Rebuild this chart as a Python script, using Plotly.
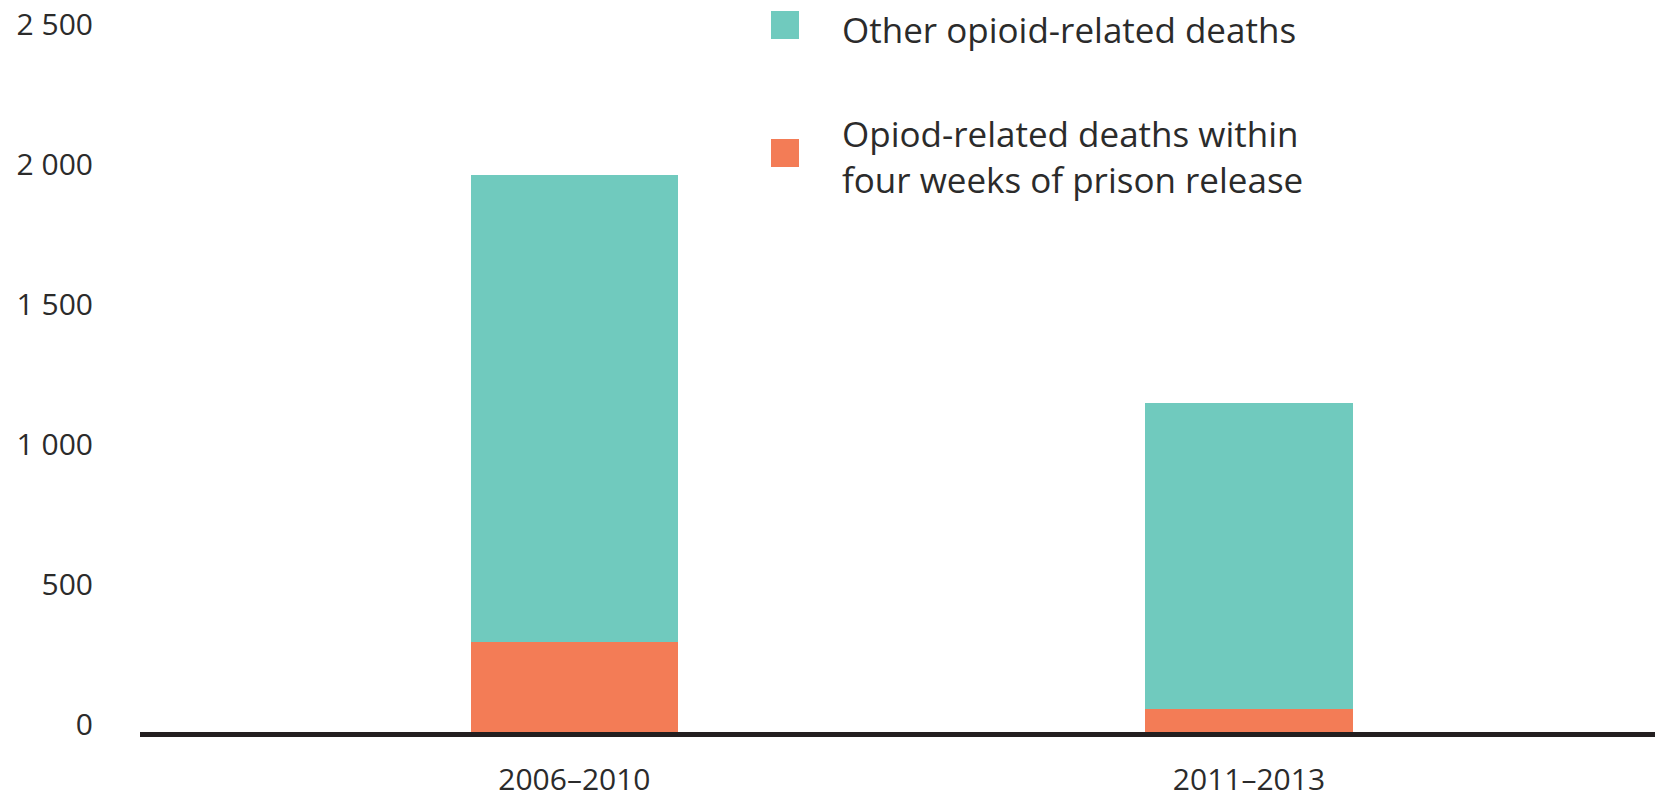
import plotly.graph_objects as go

# Opioid-related deaths by period, split by proximity to prison release
periods = ["2006–2010", "2011–2013"]
post_release = [322, 82]
other_deaths = [1667, 1094]

series_names = ["Other opioid-related deaths",
                "Opiod-related deaths within<br>four weeks of prison release"]
series_colors = ["#70CABE", "#F37C56"]

y_tickvals = [0, 500, 1000, 1500, 2000, 2500]
y_ticktext = ["0", "500", "1 000", "1 500", "2 000", "2 500"]

W, H = 1655, 799
L, R, T, B = 140, 0, 32, 67
FONT = "'Open Sans', Lato, sans-serif"
TEXT = "#2b2b2b"

fig = go.Figure()
fig.add_trace(go.Bar(x=periods, y=post_release, name=series_names[1],
                     marker=dict(color=series_colors[1], line=dict(width=0)),
                     showlegend=False))
fig.add_trace(go.Bar(x=periods, y=other_deaths, name=series_names[0],
                     marker=dict(color=series_colors[0], line=dict(width=0)),
                     showlegend=False))

plot_w = W - L - R
plot_h = H - T - B


def px_x(px):
    return (px - L) / plot_w


def px_y(py):
    return (H - B - py) / plot_h


# Hand-placed legend: swatch squares with text beside them
shapes = []
annotations = []
legend_rows = [(series_names[0], series_colors[0], 25.0, 29.0),
               (series_names[1], series_colors[1], 153.0, 156.0)]
for name, color, cy, ty in legend_rows:
    shapes.append(dict(type="rect", xref="paper", yref="paper",
                       x0=px_x(771), x1=px_x(799), y0=px_y(cy - 14), y1=px_y(cy + 14),
                       fillcolor=color, line=dict(width=0)))
    annotations.append(dict(text=name, xref="paper", yref="paper",
                            x=px_x(840), y=px_y(ty), xanchor="left", yanchor="middle",
                            align="left", showarrow=False,
                            font=dict(family=FONT, size=35, color=TEXT)))

fig.update_layout(
    width=W, height=H,
    margin=dict(l=L, r=R, t=T, b=B, pad=0),
    barmode="stack",
    bargap=0.692,
    plot_bgcolor="white", paper_bgcolor="white",
    font=dict(family=FONT, size=30, color=TEXT),
    shapes=shapes,
    annotations=annotations,
    xaxis=dict(type="category", range=[-0.644, 1.602], showgrid=False, zeroline=False,
               showline=True, linewidth=5, linecolor="#231f20", automargin=False,
               ticks="", ticklabelstandoff=17,
               tickfont=dict(family=FONT, size=30, color=TEXT)),
    yaxis=dict(range=[0, 2500], showgrid=False, zeroline=False, showline=False,
               automargin=False,
               tickvals=y_tickvals, ticktext=y_ticktext, ticks="",
               ticklabelstandoff=46, ticklabelshift=-8,
               tickfont=dict(family=FONT, size=30, color=TEXT)),
)

fig.write_html("out.html")
